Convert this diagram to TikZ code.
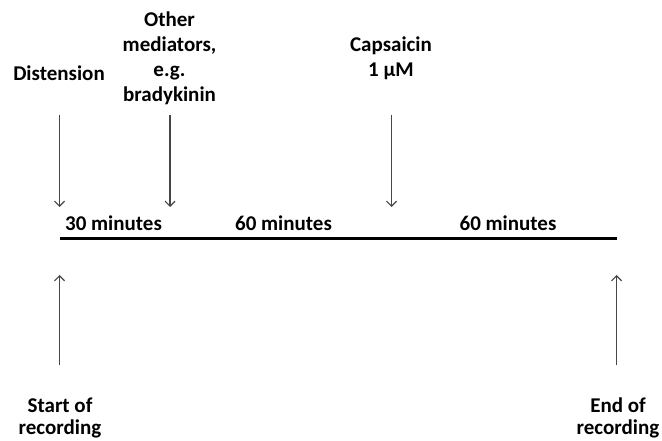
\documentclass[tikz,border=0pt]{standalone}
\usepackage{fontspec}
\setmainfont{Carlito}
\usetikzlibrary{arrows.meta}
\definecolor{cue}{RGB}{70,70,70}
\tikzset{eventtext/.style={font=\fontsize{21}{25}\selectfont\bfseries,align=center,inner sep=0pt,anchor=base},
  recordtext/.style={eventtext,font=\fontsize{21}{22}\selectfont\bfseries},
  cuearrow/.style={-{Straight Barb[length=5pt,width=10pt]},line width=1.2pt,cue},
  timeline/.style={line width=3pt,black}}
\begin{document}
\begin{tikzpicture}[x=1pt,y=-1pt]
\useasboundingbox (0,0) rectangle (662,441);
\node[eventtext] (dist) at (59,81) {Distension};
\node[eventtext] (medi) at (169.5,102) {Other\\mediators,\\e.g.\\bradykinin};
\node[eventtext] (caps) at (391,77) {Capsaicin\\1 µM};
\node[eventtext] (min1) at (113.5,230) {30 minutes};
\node[eventtext] (min2) at (283.5,230) {60 minutes};
\node[eventtext] (min3) at (508,230) {60 minutes};
\node[recordtext] (start) at (60,434) {Start of\\recording};
\node[recordtext] (finish) at (618,434) {End of\\recording};
\coordinate (t0) at (60,238.5);
\coordinate (t1) at (617,238.5);
\draw[timeline] (t0) -- (t1);
\coordinate (distTop) at (59.5,115);
\coordinate (distTip) at (59.5,207);
\coordinate (mediTop) at (170,115);
\coordinate (mediTip) at (170,207);
\coordinate (capsTop) at (391.5,115);
\coordinate (capsTip) at (391.5,207);
\coordinate (startLow) at (59.5,365);
\coordinate (startTip) at (59.5,275);
\coordinate (finishLow) at (616.5,365);
\coordinate (finishTip) at (616.5,275);
\draw[cuearrow] (distTop) -- (distTip);
\draw[cuearrow] (mediTop) -- (mediTip);
\draw[cuearrow] (capsTop) -- (capsTip);
\draw[cuearrow] (startLow) -- (startTip);
\draw[cuearrow] (finishLow) -- (finishTip);
\end{tikzpicture}
\end{document}
